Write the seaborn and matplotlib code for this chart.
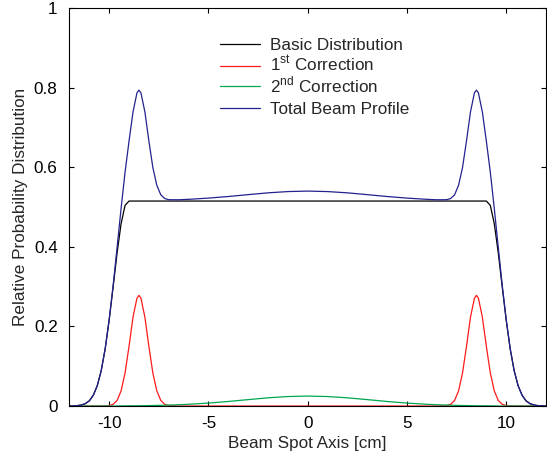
import matplotlib
matplotlib.use("Agg")
import matplotlib.pyplot as plt
from matplotlib.legend import Legend
import seaborn as sns
import pandas as pd

# x positions (cm) -- left half, mirrored for right half
x_left = [-12.0, -11.6, -11.4, -11.2, -11.0, -10.8, -10.6, -10.4, -10.2, -10.0,
          -9.8, -9.6, -9.4, -9.2, -9.0, -8.8, -8.6, -8.5, -8.4, -8.2, -8.0,
          -7.8, -7.6, -7.4, -7.2, -7.0, -6.5, -6.0, -5.0, -4.0, -3.0, -2.0, -1.0]
x_mid = [0.0]

basic_left = [0.0001, 0.001, 0.0025, 0.006, 0.013, 0.027, 0.051, 0.089, 0.144, 0.216,
              0.299, 0.385, 0.458, 0.504, 0.515, 0.515, 0.515, 0.515, 0.515, 0.515, 0.515,
              0.515, 0.515, 0.515, 0.515, 0.515, 0.515, 0.515, 0.515, 0.515, 0.515, 0.515, 0.515]
basic_mid = [0.515]

corr1_left = [0.0, 0.0, 0.0, 0.0, 0.0, 0.0, 0.0, 0.0, 0.0002, 0.0011,
              0.0043, 0.014, 0.038, 0.083, 0.150, 0.223, 0.271, 0.278, 0.271, 0.223, 0.150,
              0.083, 0.038, 0.014, 0.0043, 0.0011, 0.0, 0.0, 0.0, 0.0, 0.0, 0.0, 0.0]
corr1_mid = [0.0]

corr2_left = [0.0, 0.0, 0.0, 0.0, 0.0, 0.0, 0.0, 0.0, 0.0, 0.0,
              0.0, 0.0, 0.0003, 0.0004, 0.0005, 0.0006, 0.0007, 0.0007, 0.0008, 0.0009, 0.0011,
              0.0013, 0.0015, 0.0017, 0.0020, 0.0023, 0.0032, 0.0043, 0.0074, 0.0114, 0.0161, 0.0206, 0.0238]
corr2_mid = [0.025]

total_left = [0.0001, 0.001, 0.0025, 0.006, 0.013, 0.027, 0.051, 0.089, 0.1442, 0.2171,
              0.3033, 0.399, 0.4963, 0.5874, 0.6655, 0.7386, 0.7867, 0.7937, 0.7868, 0.7389, 0.6661,
              0.5993, 0.5545, 0.5307, 0.5213, 0.5184, 0.5182, 0.5193, 0.5224, 0.5264, 0.5311, 0.5356, 0.5388]
total_mid = [0.540]

labels = ["Basic Distribution", r"1$^{\mathregular{st}}$ Correction",
          r"2$^{\mathregular{nd}}$ Correction", "Total Beam Profile"]
colors = ["#000000", "#ff1a1a", "#00a651", "#23238e"]

def full(left, mid, neg=False):
    right = [-v for v in left[::-1]] if neg else left[::-1]
    return left + mid + right

x = full(x_left, x_mid, neg=True)
series = [full(basic_left, basic_mid), full(corr1_left, corr1_mid),
          full(corr2_left, corr2_mid), full(total_left, total_mid)]

frames = []
for lab, ys in zip(labels, series):
    frames.append(pd.DataFrame({"x": x, "y": ys, "series": lab}))
df = pd.concat(frames, ignore_index=True)

sns.set_style("ticks")
plt.rcParams["font.family"] = ["Liberation Sans", "DejaVu Sans"]
plt.rcParams["axes.unicode_minus"] = False

FS = 12.3

fig = plt.figure(figsize=(5.47, 4.58), dpi=100)
ax = fig.add_axes([0.127, 0.1135, 0.871, 0.869])

sns.lineplot(data=df, x="x", y="y", hue="series", hue_order=labels,
             palette=dict(zip(labels, colors)), linewidth=0.9, ax=ax,
             sort=False, estimator=None, legend=False)

ax.set_xlim(-12, 12)
ax.set_ylim(0, 1)
ax.set_xticks([-10, -5, 0, 5, 10])
ax.set_xticklabels(["-10", "-5", "0", "5", "10"])
ax.set_yticks([0, 0.2, 0.4, 0.6, 0.8, 1])
ax.set_yticklabels(["0", "0.2", "0.4", "0.6", "0.8", "1"])
ax.tick_params(direction="in", length=3.6, width=0.8, top=True, right=True,
               labelsize=FS, colors="black")
ax.tick_params(axis="y", pad=8.5)
ax.tick_params(axis="x", pad=7)
for s in ax.spines.values():
    s.set_visible(True)
    s.set_linewidth(0.8)
    s.set_color("black")
ax.set_xlabel("Beam Spot Axis [cm]", fontsize=FS, labelpad=4)
ax.set_ylabel("Relative Probability Distribution", fontsize=FS, labelpad=4.5)

# legend: one entry per row so that rows are evenly spaced
lines = ax.get_lines()[:4]
row_y = [0.907, 0.858, 0.807, 0.745]
for ln, lab, yy in zip(lines, labels, row_y):
    leg = Legend(ax, [ln], [lab], loc="center left", bbox_to_anchor=(0.316, yy),
                 frameon=False, fontsize=FS, handlelength=2.35, handletextpad=0.6,
                 borderaxespad=0, borderpad=0)
    ax.add_artist(leg)

fig.savefig("out.png", dpi=100)
